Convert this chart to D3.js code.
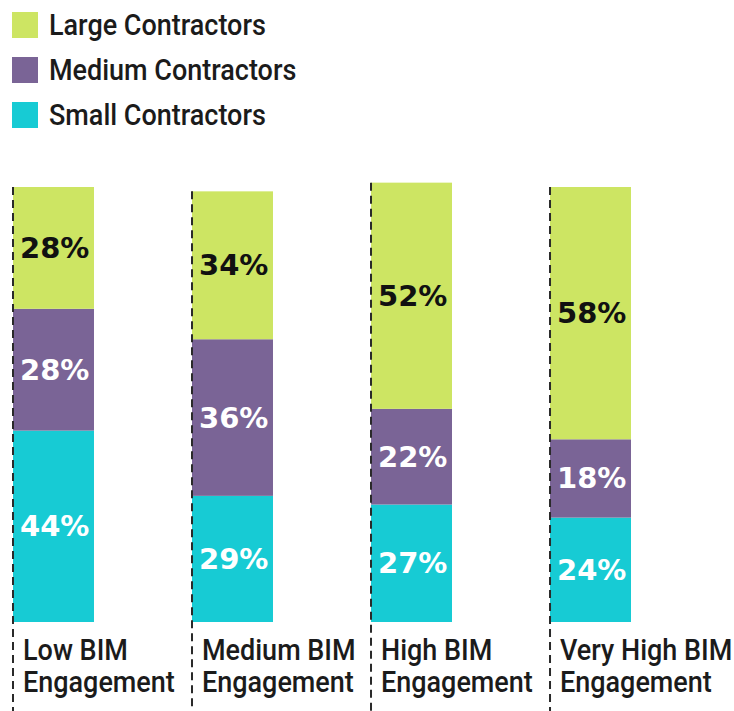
<!DOCTYPE html>
<html>
<head>
<meta charset="utf-8">
<script src="https://cdn.jsdelivr.net/npm/d3@7/dist/d3.min.js"></script>
<style>
  html, body { margin: 0; padding: 0; background: #fff; }
  svg { display: block; }
  .cond { font-family: "Roboto", "Liberation Sans", sans-serif; font-size: 30px; font-weight: 500; fill: #1b1b1b; }
  .val { font-family: "DejaVu Sans", sans-serif; font-weight: bold; font-size: 29px; }
</style>
</head>
<body>
<svg id="chart" width="734" height="711"></svg>
<script>
// BIM engagement level groups
const categories = ["Low BIM Engagement", "Medium BIM Engagement", "High BIM Engagement", "Very High BIM Engagement"];
const categoryLines = [["Low BIM", "Engagement"], ["Medium BIM", "Engagement"], ["High BIM", "Engagement"], ["Very High BIM", "Engagement"]];

// Share of each contractor size (percent)
const smallContractors  = [44, 29, 27, 24];
const mediumContractors = [28, 36, 22, 18];
const largeContractors  = [28, 34, 52, 58];

const seriesKeys   = ["small", "medium", "large"];
const seriesNames  = { large: "Large Contractors", medium: "Medium Contractors", small: "Small Contractors" };
const seriesColors = { large: "#cde563", medium: "#7a6496", small: "#17cbd4" };
const labelColors  = { large: "#111111", medium: "#ffffff", small: "#ffffff" };
const legendOrder  = ["large", "medium", "small"];

const rows = categories.map((c, i) => ({
  category: c,
  small: smallContractors[i],
  medium: mediumContractors[i],
  large: largeContractors[i]
}));

const svg = d3.select("#chart");
const condScale = 0.9;

const x = d3.scaleBand().domain(categories).range([12, 631]).paddingInner(0.542).paddingOuter(0);
const y = d3.scaleLinear().domain([0, 100]).range([622, 187]);

const stacked = d3.stack().keys(seriesKeys)(rows);

// stacked segments
const layers = svg.append("g").selectAll("g")
  .data(stacked)
  .join("g")
  .attr("fill", s => seriesColors[s.key]);

layers.selectAll("rect")
  .data(s => s.map(d => ({ key: s.key, d })))
  .join("rect")
  .attr("x", p => x(p.d.data.category) + 1)
  .attr("width", x.bandwidth() - 1)
  .attr("y", p => y(p.d[1]))
  .attr("height", p => y(p.d[0]) - y(p.d[1]));

// dashed guide on the left edge of each column, running down past the labels
svg.append("g").selectAll("line")
  .data(rows)
  .join("line")
  .attr("x1", d => x(d.category) + 1)
  .attr("x2", d => x(d.category) + 1)
  .attr("y1", d => y(d.small + d.medium + d.large))
  .attr("y2", 711)
  .attr("stroke", "#2a2a2a")
  .attr("stroke-width", 2)
  .attr("stroke-dasharray", "8,5");

// value labels
layers.selectAll("text")
  .data(s => s.map(d => ({ key: s.key, d })))
  .join("text")
  .attr("class", "val")
  .attr("x", p => x(p.d.data.category) + 8)
  .attr("y", p => (y(p.d[0]) + y(p.d[1])) / 2 + 10)
  .attr("fill", p => labelColors[p.key])
  .text(p => (p.d[1] - p.d[0]) + "%");

// category labels
const catG = svg.append("g").selectAll("g")
  .data(categories)
  .join("g")
  .attr("transform", (c) => `translate(${x(c) + 11},0)`);

catG.each(function(c, i) {
  categoryLines[i].forEach((line, j) => {
    d3.select(this).append("text")
      .attr("class", "cond")
      .attr("transform", `translate(0,${660 + j * 32}) scale(${condScale},1)`)
      .text(line);
  });
});

// legend
const legend = svg.append("g").selectAll("g")
  .data(legendOrder)
  .join("g")
  .attr("transform", (k, i) => `translate(12,${12 + i * 45})`);

legend.append("rect")
  .attr("width", 26)
  .attr("height", 26)
  .attr("fill", k => seriesColors[k]);

legend.append("text")
  .attr("class", "cond")
  .attr("transform", `translate(37,23) scale(${condScale},1)`)
  .text(k => seriesNames[k]);
</script>
</body>
</html>
